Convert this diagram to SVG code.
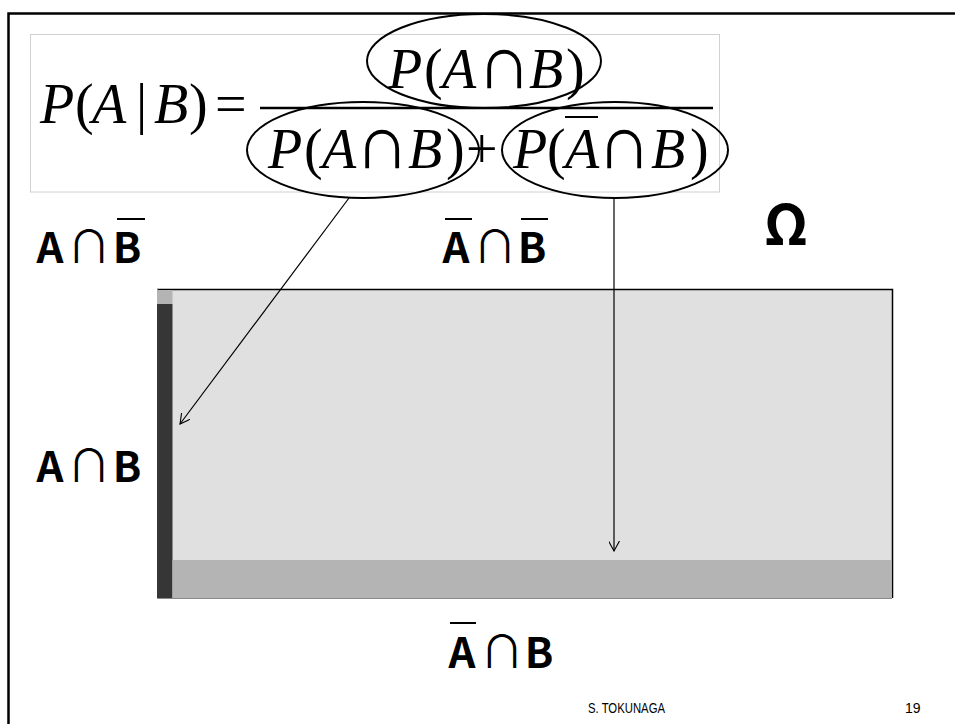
<svg xmlns="http://www.w3.org/2000/svg" width="955" height="724" viewBox="0 0 955 724">
  <defs>
    <style>
      .frame { fill: none; stroke: #000; stroke-width: 2.5; }
      .fbox { fill: #fff; stroke: #d0d0d0; stroke-width: 1; }
      .math { font-family: "Liberation Serif", "Times New Roman", serif; font-style: italic; font-size: 56px; fill: #000; }
      .up { font-style: normal; }
      .cap { font-style: normal; font-size: 76px; }
      .ring { fill: none; stroke: #000; stroke-width: 2; }
      .bar { stroke: #000; stroke-width: 2.5; }
      .lbl { font-family: "Noto Sans CJK JP", "DejaVu Sans", sans-serif; font-weight: bold; font-size: 42px; fill: #000; text-anchor: middle; }
      .thin { font-weight: normal; font-size: 44px; }
      .ovl { stroke: #000; stroke-width: 2; }
      .conn { fill: none; stroke: #000; stroke-width: 1.2; }
      .foot { font-family: "Liberation Sans", Arial, sans-serif; font-size: 14px; fill: #000; }
    </style>
    <marker id="open" viewBox="0 0 12 12" refX="11" refY="6" markerWidth="11" markerHeight="11" markerUnits="userSpaceOnUse" orient="auto">
      <path d="M0,0 L11,6 L0,12" fill="none" stroke="#000" stroke-width="1.2"/>
    </marker>
  </defs>

  <rect width="955" height="724" fill="#fff"/>

  <!-- page frame (open to the right and bottom) -->
  <path class="frame" d="M8.5,724 V13.5 H955"/>

  <!-- formula -->
  <g id="formula">
    <rect class="fbox" x="30.5" y="34.5" width="689" height="157.5"/>
    <text class="math" y="123">
      <tspan x="40">P</tspan><tspan x="75" class="up">(</tspan><tspan x="92">A</tspan><tspan x="136" class="up">|</tspan><tspan x="154">B</tspan><tspan x="189" class="up">)</tspan><tspan x="215" class="up">=</tspan>
    </text>
    <line class="bar" x1="260" y1="108" x2="713" y2="108"/>
    <text class="math" y="88">
      <tspan x="388">P</tspan><tspan x="424" class="up">(</tspan><tspan x="442">A</tspan><tspan x="477" class="cap">∩</tspan><tspan x="529">B</tspan><tspan x="566" class="up">)</tspan>
    </text>
    <text class="math" y="168">
      <tspan x="268">P</tspan><tspan x="304" class="up">(</tspan><tspan x="322">A</tspan><tspan x="355" class="cap">∩</tspan><tspan x="408">B</tspan><tspan x="446" class="up">)</tspan><tspan x="466" class="up">+</tspan><tspan x="513">P</tspan><tspan x="547" class="up">(</tspan><tspan x="565">A</tspan><tspan x="597" class="cap">∩</tspan><tspan x="651">B</tspan><tspan x="690" class="up">)</tspan>
    </text>
    <line class="ovl" x1="565" y1="117" x2="598" y2="117"/>
  </g>

  <!-- circled terms -->
  <g id="term-num">
    <ellipse class="ring" cx="484" cy="61" rx="117" ry="47"/>
  </g>
  <g id="term-ab">
    <ellipse class="ring" cx="363" cy="150" rx="116" ry="48"/>
  </g>
  <g id="term-notab">
    <ellipse class="ring" cx="615" cy="150" rx="113" ry="48"/>
  </g>

  <!-- sample space -->
  <g id="omega-region">
    <rect x="157" y="289" width="735.5" height="309" fill="#e0e0e0"/>
    <path d="M157,289.5 H892.5 V598" fill="none" stroke="#000" stroke-width="1.5"/>
    <path d="M157.5,289 V598.5 H892" fill="none" stroke="#8a8a8a" stroke-width="1"/>
  </g>
  <g id="region-ab">
    <rect x="157" y="304" width="15.5" height="294" fill="#363636"/>
    <rect x="157" y="290" width="15.5" height="14" fill="#b4b4b4"/>
  </g>
  <g id="region-notab">
    <rect x="172.5" y="560" width="719" height="38" fill="#b4b4b4"/>
  </g>

  <!-- set labels -->
  <g id="label-a-notb">
    <text class="lbl" y="263"><tspan x="50">A</tspan><tspan x="89" class="thin">∩</tspan><tspan x="127">B</tspan></text>
    <line class="ovl" x1="117" y1="219" x2="145" y2="219"/>
  </g>
  <g id="label-nota-notb">
    <text class="lbl" y="263"><tspan x="456">A</tspan><tspan x="495" class="thin">∩</tspan><tspan x="532">B</tspan></text>
    <line class="ovl" x1="445" y1="219" x2="472" y2="219"/>
    <line class="ovl" x1="521" y1="219" x2="548" y2="219"/>
  </g>
  <g id="label-omega">
    <text class="lbl" x="786" y="245" style="font-size:56px">Ω</text>
  </g>
  <g id="label-ab">
    <text class="lbl" y="482"><tspan x="50">A</tspan><tspan x="89" class="thin">∩</tspan><tspan x="127">B</tspan></text>
  </g>
  <g id="label-nota-b">
    <text class="lbl" y="668"><tspan x="462">A</tspan><tspan x="502" class="thin">∩</tspan><tspan x="539">B</tspan></text>
    <line class="ovl" x1="450" y1="623" x2="476" y2="623"/>
  </g>

  <!-- connectors -->
  <g id="connectors">
    <line class="conn" x1="349" y1="198" x2="180" y2="424" marker-end="url(#open)"/>
    <line class="conn" x1="614" y1="198" x2="614" y2="551" marker-end="url(#open)"/>
  </g>

  <!-- footer -->
  <text class="foot" x="588" y="713" textLength="77" lengthAdjust="spacingAndGlyphs">S. TOKUNAGA</text>
  <text class="foot" x="905" y="713">19</text>
</svg>
